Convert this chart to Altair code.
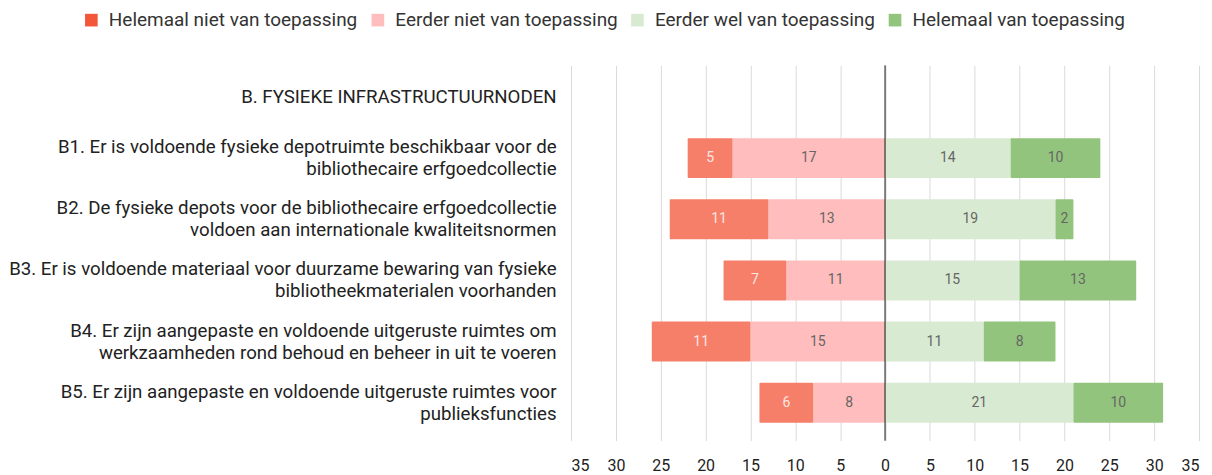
import altair as alt
import pandas as pd

rows = [
    "B. FYSIEKE INFRASTRUCTUURNODEN",
    "B1. Er is voldoende fysieke depotruimte beschikbaar voor de|bibliothecaire erfgoedcollectie",
    "B2. De fysieke depots voor de bibliothecaire erfgoedcollectie|voldoen aan internationale kwaliteitsnormen",
    "B3. Er is voldoende materiaal voor duurzame bewaring van fysieke|bibliotheekmaterialen voorhanden",
    "B4. Er zijn aangepaste en voldoende uitgeruste ruimtes om|werkzaamheden rond behoud en beheer in uit te voeren",
    "B5. Er zijn aangepaste en voldoende uitgeruste ruimtes voor|publieksfuncties",
]
items = rows[1:]
cats = ["Helemaal niet van toepassing", "Eerder niet van toepassing",
        "Eerder wel van toepassing", "Helemaal van toepassing"]
helemaal_niet = [5, 11, 7, 11, 6]
eerder_niet = [17, 13, 11, 15, 8]
eerder_wel = [14, 19, 15, 11, 21]
helemaal_wel = [10, 2, 13, 8, 10]

bar_colors = ["#f67f6a", "#ffbdbd", "#d9ead3", "#93c47d"]
legend_colors = ["#f4563a", "#ffbdbd", "#d9ead3", "#93c47d"]

recs = []
for i, it in enumerate(items):
    hn, en, ew, hw = helemaal_niet[i], eerder_niet[i], eerder_wel[i], helemaal_wel[i]
    recs.append(dict(item=it, cat=cats[1], v=en, start=-en, end=0))
    recs.append(dict(item=it, cat=cats[0], v=hn, start=-(en + hn), end=-en))
    recs.append(dict(item=it, cat=cats[2], v=ew, start=0, end=ew))
    recs.append(dict(item=it, cat=cats[3], v=hw, start=ew, end=ew + hw))
df = pd.DataFrame(recs)
df["mid"] = (df["start"] + df["end"]) / 2

yscale = alt.Scale(domain=rows, paddingInner=0.347, paddingOuter=0.243, align=0.395)
yenc = alt.Y("item:N", scale=yscale,
             axis=alt.Axis(title=None, labelExpr="split(datum.label, '|')", labelFontSize=18.7,
                           labelColor="#222", labelLineHeight=22, labelLimit=700,
                           labelOffset={"condition": {"test": "indexof(datum.value, '|') >= 0",
                                                      "value": -11}, "value": 0},
                           ticks=False, domain=False, labelPadding=15, grid=False,
                           labelFont="Roboto"))
xscale = alt.Scale(domain=[-35, 35], nice=False)

base = alt.Chart(df)
bars = base.mark_bar(cornerRadius=1).encode(
    x=alt.X("start:Q", scale=xscale,
            axis=alt.Axis(title=None, values=list(range(-35, 36, 5)), labelExpr="abs(datum.value)",
                          grid=True, gridColor="#dadada", domain=False, ticks=False,
                          labelPadding=17, labelFontSize=16, labelColor="#222",
                          labelFont="Roboto")),
    x2="end:Q",
    y=yenc,
    color=alt.Color("cat:N", scale=alt.Scale(domain=cats, range=bar_colors), legend=None),
)
texts = base.mark_text(fontSize=14, font="Roboto").encode(
    x=alt.X("mid:Q", scale=xscale),
    y=alt.Y("item:N", scale=yscale),
    text="v:Q",
    color=alt.condition(alt.datum.cat == cats[0], alt.value("#fde6e1"), alt.value("#666666")),
)
zero = alt.Chart(pd.DataFrame({"z": [0]})).mark_rule(color="#111", strokeWidth=1).encode(
    x=alt.X("z:Q", scale=xscale))

leg_df = pd.DataFrame({"cat": cats})
legend_layer = alt.Chart(leg_df).mark_square(opacity=0).encode(
    x=alt.value(0), y=alt.value(0),
    color=alt.Color("cat:N", scale=alt.Scale(domain=cats, range=legend_colors),
                    legend=alt.Legend(title=None, orient="none", direction="horizontal",
                                      legendX=-490, legendY=-55, symbolType="square",
                                      symbolSize=160, symbolOpacity=1, symbolStrokeWidth=0,
                                      labelFontSize=19, labelColor="#333", labelFont="Roboto",
                                      columnPadding=10, labelOffset=8, labelLimit=500)),
)

chart = alt.layer(bars, zero, texts, legend_layer).resolve_scale(color="independent").properties(
    width=629, height=376, padding={"left": 0, "top": 2, "right": 5, "bottom": 5}
).configure(font="Roboto", view=alt.ViewConfig(stroke="transparent", strokeWidth=0))

chart.save("out.html", embed_options={"renderer": "svg", "actions": False})
